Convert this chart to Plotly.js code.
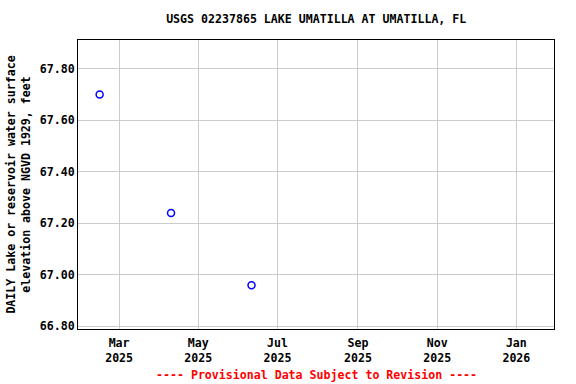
<!DOCTYPE html>
<html><head><meta charset="utf-8">
<script src="https://cdn.plot.ly/plotly-3.0.1.min.js"></script>
<style>html,body{margin:0;padding:0;background:#fff}#chart{width:576px;height:384px}</style>
</head><body><div id="chart"></div>
<script>
const dates = ["2025-02-14", "2025-04-10", "2025-06-11"];
const elevations = [67.70, 67.24, 66.96];
const tickDates = ["2025-03-01", "2025-05-01", "2025-07-01", "2025-09-01", "2025-11-01", "2026-01-01"];
const tickLabels = ["Mar<br>2025", "May<br>2025", "Jul<br>2025", "Sep<br>2025", "Nov<br>2025", "Jan<br>2026"];
const yTicks = [66.80, 67.00, 67.20, 67.40, 67.60, 67.80];

const font = {family: "DejaVu Sans Mono, monospace", size: 11.6, color: "#000"};
const trace = {
  x: dates, y: elevations, type: "scatter", mode: "markers",
  marker: {symbol: "circle-open", size: 7, color: "#0000ff", line: {width: 1.5, color: "#0000ff"}},
  hoverinfo: "x+y"
};
const layout = {
  width: 576, height: 384,
  margin: {l: 78, r: 22, t: 40, b: 55},
  paper_bgcolor: "#fff", plot_bgcolor: "#fff",
  font: font,
  showlegend: false,
  title: {text: "<b>USGS 02237865 LAKE UMATILLA AT UMATILLA, FL</b>", font: {family: font.family, size: 11.6}, x: 0.549, xanchor: "center", y: 0.95, yanchor: "middle"},
  xaxis: {
    type: "date", range: ["2025-01-28 08:00", "2026-01-30"],
    tickvals: tickDates, ticktext: tickLabels.map(t => "<b>" + t + "</b>"),
    showgrid: true, gridcolor: "#cccccc", gridwidth: 1,
    showline: true, linecolor: "#000", linewidth: 1, mirror: true,
    ticks: "outside", ticklen: 3, tickcolor: "rgba(0,0,0,0)", zeroline: false, tickfont: font
  },
  yaxis: {
    range: [66.79, 67.912],
    tickvals: yTicks, ticktext: yTicks.map(v => "<b>" + v.toFixed(2) + "</b>"),
    showgrid: true, gridcolor: "#cccccc", gridwidth: 1,
    showline: true, linecolor: "#000", linewidth: 1, mirror: true,
    ticks: "", zeroline: false, tickfont: font,
    title: {text: "<b>DAILY Lake or reservoir water surface<br>elevation above NGVD 1929, feet</b>", font: font, standoff: 6}
  },
  annotations: [{
    text: "<b>---- Provisional Data Subject to Revision ----</b>",
    xref: "paper", yref: "paper", x: 0.5, y: -0.159, xanchor: "center", yanchor: "middle",
    showarrow: false, font: {family: font.family, size: 11.6, color: "#ff0000"}
  }]
};
Plotly.newPlot("chart", [trace], layout, {staticPlot: true, displayModeBar: false});
</script></body></html>
